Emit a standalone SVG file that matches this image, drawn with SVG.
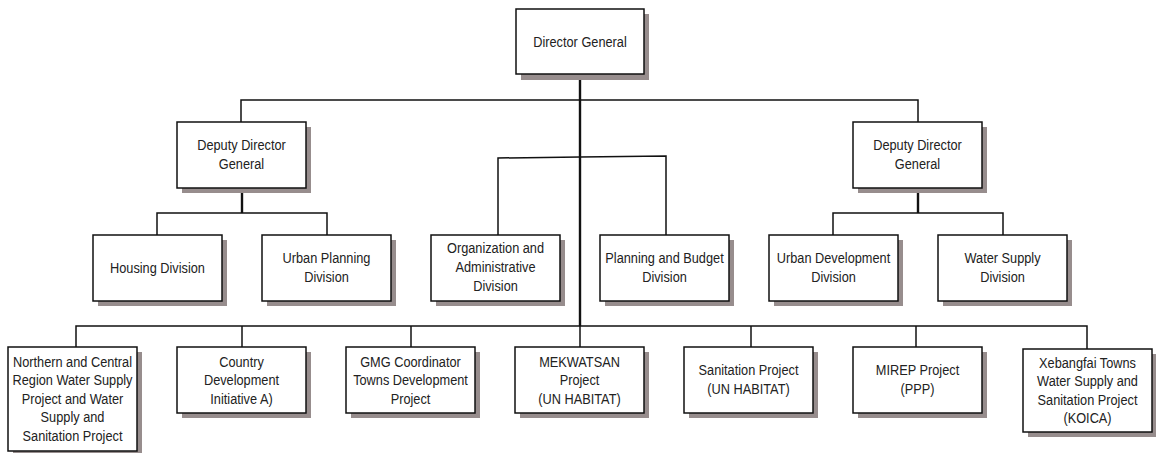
<svg xmlns="http://www.w3.org/2000/svg" width="1156" height="453" viewBox="0 0 1156 453">
  <defs>
    <style>
      .shadow { fill: #978d8d; }
      .box { fill: #ffffff; stroke: #111111; stroke-width: 1.5; }
      .lbl { font-family: "Liberation Sans", Arial, sans-serif; font-size: 14.5px; fill: #222222; text-anchor: middle; }
      .ln { fill: none; stroke: #111111; stroke-width: 1.5; }
      .trunk { fill: none; stroke: #111111; stroke-width: 2.4; }
    </style>
  </defs>
  <rect width="1156" height="453" fill="#ffffff"/>

  <!-- connectors -->
  <g id="connectors">
    <line class="trunk" x1="580" y1="74" x2="580" y2="326"/>
    <polyline class="ln" points="241,122 241,100 918,100 918,122"/>
    <line class="trunk" x1="242" y1="188" x2="242" y2="213"/>
    <polyline class="ln" points="157,235 157,213 327,213 327,235"/>
    <line class="trunk" x1="918" y1="188" x2="918" y2="213"/>
    <polyline class="ln" points="833,235 833,213 1003,213 1003,235"/>
    <polyline class="ln" points="498,235 498,158 580,157 666,156 666,235"/>
    <polyline class="ln" points="76,347 76,326 1087,326 1087,349"/>
    <line class="ln" x1="242" y1="326" x2="242" y2="347"/>
    <line class="ln" x1="411" y1="326" x2="411" y2="347"/>
    <line class="ln" x1="580" y1="326" x2="580" y2="347"/>
    <line class="ln" x1="751" y1="326" x2="751" y2="347"/>
    <line class="ln" x1="916" y1="326" x2="916" y2="347"/>
  </g>

  <!-- labels are set in a condensed face: each label group is centred on its box and squeezed horizontally -->
  <g id="director-general">
    <rect class="shadow" x="521" y="14" width="128" height="66"/>
    <rect class="box" x="516" y="9" width="128" height="65"/>
    <g transform="translate(580 0) scale(0.88 1)">
      <text class="lbl" x="0" y="47">Director General</text>
    </g>
  </g>

  <g id="deputy-left">
    <rect class="shadow" x="182" y="127" width="129" height="66"/>
    <rect class="box" x="177" y="122" width="129" height="66"/>
    <g transform="translate(241.5 0) scale(0.88 1)">
      <text class="lbl" x="0" y="150">Deputy Director</text>
      <text class="lbl" x="0" y="169">General</text>
    </g>
  </g>

  <g id="deputy-right">
    <rect class="shadow" x="858" y="127" width="129" height="66"/>
    <rect class="box" x="853" y="122" width="129" height="66"/>
    <g transform="translate(917.5 0) scale(0.88 1)">
      <text class="lbl" x="0" y="150">Deputy Director</text>
      <text class="lbl" x="0" y="169">General</text>
    </g>
  </g>

  <g id="housing">
    <rect class="shadow" x="98" y="240" width="129" height="66"/>
    <rect class="box" x="93" y="235" width="129" height="66"/>
    <g transform="translate(157.5 0) scale(0.88 1)">
      <text class="lbl" x="0" y="273">Housing Division</text>
    </g>
  </g>

  <g id="urban-planning">
    <rect class="shadow" x="267" y="240" width="129" height="66"/>
    <rect class="box" x="262" y="235" width="129" height="66"/>
    <g transform="translate(326.5 0) scale(0.88 1)">
      <text class="lbl" x="0" y="263">Urban Planning</text>
      <text class="lbl" x="0" y="282">Division</text>
    </g>
  </g>

  <g id="organization-admin">
    <rect class="shadow" x="436" y="240" width="129" height="66"/>
    <rect class="box" x="431" y="235" width="129" height="66"/>
    <g transform="translate(495.5 0) scale(0.88 1)">
      <text class="lbl" x="0" y="253">Organization and</text>
      <text class="lbl" x="0" y="272">Administrative</text>
      <text class="lbl" x="0" y="291">Division</text>
    </g>
  </g>

  <g id="planning-budget">
    <rect class="shadow" x="605" y="240" width="129" height="66"/>
    <rect class="box" x="600" y="235" width="129" height="66"/>
    <g transform="translate(664.5 0) scale(0.88 1)">
      <text class="lbl" x="0" y="263">Planning and Budget</text>
      <text class="lbl" x="0" y="282">Division</text>
    </g>
  </g>

  <g id="urban-development">
    <rect class="shadow" x="774" y="240" width="129" height="66"/>
    <rect class="box" x="769" y="235" width="129" height="66"/>
    <g transform="translate(833.5 0) scale(0.88 1)">
      <text class="lbl" x="0" y="263">Urban Development</text>
      <text class="lbl" x="0" y="282">Division</text>
    </g>
  </g>

  <g id="water-supply">
    <rect class="shadow" x="943" y="240" width="129" height="66"/>
    <rect class="box" x="938" y="235" width="129" height="66"/>
    <g transform="translate(1002.5 0) scale(0.88 1)">
      <text class="lbl" x="0" y="263">Water Supply</text>
      <text class="lbl" x="0" y="282">Division</text>
    </g>
  </g>

  <g id="northern-central">
    <rect class="shadow" x="13" y="352" width="129" height="104"/>
    <rect class="box" x="8" y="347" width="129" height="104"/>
    <g transform="translate(72.5 0) scale(0.88 1)">
      <text class="lbl" x="0" y="367">Northern and Central</text>
      <text class="lbl" x="0" y="385.5">Region Water Supply</text>
      <text class="lbl" x="0" y="404">Project and Water</text>
      <text class="lbl" x="0" y="422.5">Supply and</text>
      <text class="lbl" x="0" y="441">Sanitation Project</text>
    </g>
  </g>

  <g id="country-development">
    <rect class="shadow" x="182" y="352" width="129" height="66"/>
    <rect class="box" x="177" y="347" width="129" height="66"/>
    <g transform="translate(241.5 0) scale(0.88 1)">
      <text class="lbl" x="0" y="367">Country</text>
      <text class="lbl" x="0" y="385.5">Development</text>
      <text class="lbl" x="0" y="404">Initiative A)</text>
    </g>
  </g>

  <g id="gmg-coordinator">
    <rect class="shadow" x="351" y="352" width="129" height="66"/>
    <rect class="box" x="346" y="347" width="129" height="66"/>
    <g transform="translate(410.5 0) scale(0.88 1)">
      <text class="lbl" x="0" y="367">GMG Coordinator</text>
      <text class="lbl" x="0" y="385.5">Towns Development</text>
      <text class="lbl" x="0" y="404">Project</text>
    </g>
  </g>

  <g id="mekwatsan">
    <rect class="shadow" x="520" y="352" width="129" height="66"/>
    <rect class="box" x="515" y="347" width="129" height="66"/>
    <g transform="translate(579.5 0) scale(0.88 1)">
      <text class="lbl" x="0" y="367">MEKWATSAN</text>
      <text class="lbl" x="0" y="385.5">Project</text>
      <text class="lbl" x="0" y="404">(UN HABITAT)</text>
    </g>
  </g>

  <g id="sanitation">
    <rect class="shadow" x="689" y="352" width="129" height="66"/>
    <rect class="box" x="684" y="347" width="129" height="66"/>
    <g transform="translate(748.5 0) scale(0.88 1)">
      <text class="lbl" x="0" y="375">Sanitation Project</text>
      <text class="lbl" x="0" y="394">(UN HABITAT)</text>
    </g>
  </g>

  <g id="mirep">
    <rect class="shadow" x="858" y="352" width="129" height="66"/>
    <rect class="box" x="853" y="347" width="129" height="66"/>
    <g transform="translate(917.5 0) scale(0.88 1)">
      <text class="lbl" x="0" y="375">MIREP Project</text>
      <text class="lbl" x="0" y="394">(PPP)</text>
    </g>
  </g>

  <g id="xebangfai">
    <rect class="shadow" x="1028" y="354" width="129" height="83"/>
    <rect class="box" x="1023" y="349" width="129" height="83"/>
    <g transform="translate(1087.5 0) scale(0.88 1)">
      <text class="lbl" x="0" y="368">Xebangfai Towns</text>
      <text class="lbl" x="0" y="386.5">Water Supply and</text>
      <text class="lbl" x="0" y="405">Sanitation Project</text>
      <text class="lbl" x="0" y="423.5">(KOICA)</text>
    </g>
  </g>
</svg>
